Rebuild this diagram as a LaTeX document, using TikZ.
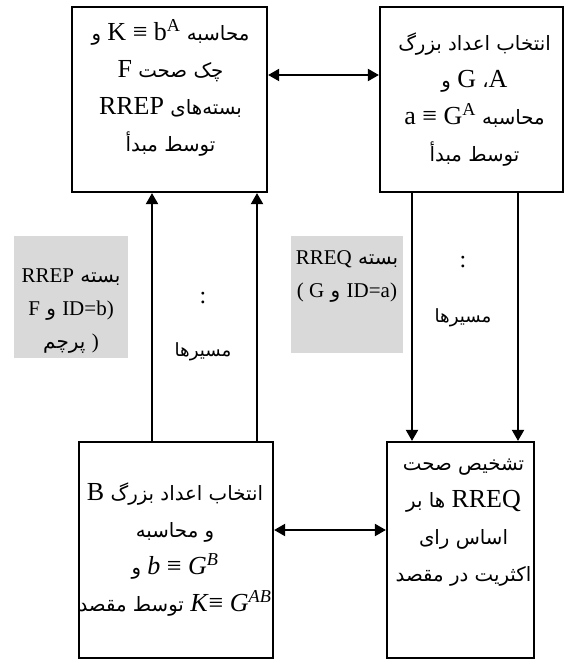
\documentclass[tikz,border=0pt]{standalone}
\usepackage{fontspec}
\setmainfont{Liberation Serif}
\newfontfamily\fa[Script=Arabic,Scale=0.76]{DejaVu Sans}
\newfontfamily\fag[Script=Arabic,Scale=0.95]{DejaVu Sans}
\TeXXeTstate=1
\usetikzlibrary{arrows.meta}
\newcommand{\LtrRun}[1]{\beginL{\rmfamily #1}\endL}
\newcommand{\RtlLine}[1]{{\fa\beginR #1\endR}}
\newcommand{\RtlLineG}[1]{{\fag\beginR #1\endR}}
\newcommand{\bxfont}{\fontsize{26}{37}\selectfont}
\newcommand{\gyfont}{\fontsize{21}{33}\selectfont}
\tikzset{
  box/.style={draw, line width=2.2pt, inner sep=0pt},
  txt/.style={align=center, font=\bxfont, inner sep=0pt},
  gtxt/.style={align=center, font=\gyfont, inner sep=0pt},
  ptxt/.style={align=center, font=\fontsize{24}{30}\selectfont, inner sep=0pt},
  graybox/.style={fill=black!15, inner sep=0pt},
  arr/.style={line width=2pt, -{Triangle[length=11pt,width=12pt]}},
  darr/.style={line width=2pt, {Triangle[length=11pt,width=12pt]}-{Triangle[length=11pt,width=12pt]}},
}
\begin{document}
\begin{tikzpicture}[x=1pt,y=-1pt]
\useasboundingbox (0,0) rectangle (565,660);
% boxes
\node[box, minimum width=195pt, minimum height=185pt] (tl) at (169.5,99.5) {};
\node[box, minimum width=183pt, minimum height=185pt] (tr) at (471.5,99.5) {};
\node[box, minimum width=194pt, minimum height=216pt] (bl) at (176,550) {};
\node[box, minimum width=147pt, minimum height=216pt] (br) at (460.5,550) {};
% gray boxes
\node[graybox, minimum width=114pt, minimum height=122pt] (gl) at (71,297) {};
\node[graybox, minimum width=112pt, minimum height=117pt] (gr) at (347,294.5) {};
% box texts
\node[txt] (tltext) at (170.5,88) {%
\RtlLine{محاسبه \LtrRun{K ≡ b\textsuperscript{A}} و}\\
\RtlLine{چک صحت \LtrRun{F}}\\
\RtlLine{بسته‌های \LtrRun{RREP}}\\
\RtlLine{توسط مبدأ}};
\node[txt] (trtext) at (474.5,100) {%
\RtlLine{انتخاب اعداد بزرگ}\\
\RtlLine{\LtrRun{A}، \LtrRun{G} و}\\
\RtlLine{محاسبه \LtrRun{a ≡ G\textsuperscript{A}}}\\
\RtlLine{توسط مبدأ}};
\node[txt] (bltext) at (175,550) {%
\RtlLine{انتخاب اعداد بزرگ \LtrRun{B}}\\
\RtlLine{و محاسبه}\\
\RtlLine{\LtrRun{\textit{b} ≡ \textit{G}\textsuperscript{\textit{B}}} و}\\
\RtlLine{\LtrRun{\textit{K}≡ \textit{G}\textsuperscript{\textit{AB}}} توسط مقصد}};
\node[txt] (brtext) at (463.5,523) {%
\RtlLine{تشخیص صحت}\\
\RtlLine{\LtrRun{RREQ} ها بر}\\
\RtlLine{اساس رای}\\
\RtlLine{اکثریت در مقصد}};
% gray texts
\node[gtxt] (gltext) at (71,311) {%
\RtlLineG{بسته \LtrRun{RREP}}\\
\RtlLineG{\LtrRun{ID=b)} و \LtrRun{F}}\\
\RtlLineG{\LtrRun{)} پرچم}};
\node[gtxt] (grtext) at (347,276) {%
\RtlLineG{بسته \LtrRun{RREQ}}\\
\RtlLineG{\LtrRun{ID=a)} و \LtrRun{( G}}};
% path labels
\node[ptxt] (lcolon) at (203,298) {:};
\node[ptxt] (lpath) at (203,352) {\RtlLine{مسیرها}};
\node[ptxt] (rcolon) at (463,262) {:};
\node[ptxt] (rpath) at (463,318) {\RtlLine{مسیرها}};
% connector guides
\coordinate (xa) at (152,0);
\coordinate (xb) at (257,0);
\coordinate (xc) at (412,0);
\coordinate (xd) at (518,0);
\coordinate (ya) at (0,75);
\coordinate (yb) at (0,530);
% connectors
\draw[darr] (tl.east |- ya) -- (tr.west |- ya);
\draw[darr] (bl.east |- yb) -- (br.west |- yb);
\draw[arr] (bl.north -| xa) -- (tl.south -| xa);
\draw[arr] (bl.north -| xb) -- (tl.south -| xb);
\draw[arr] (tr.south -| xc) -- (br.north -| xc);
\draw[arr] (tr.south -| xd) -- (br.north -| xd);
\end{tikzpicture}
\end{document}
